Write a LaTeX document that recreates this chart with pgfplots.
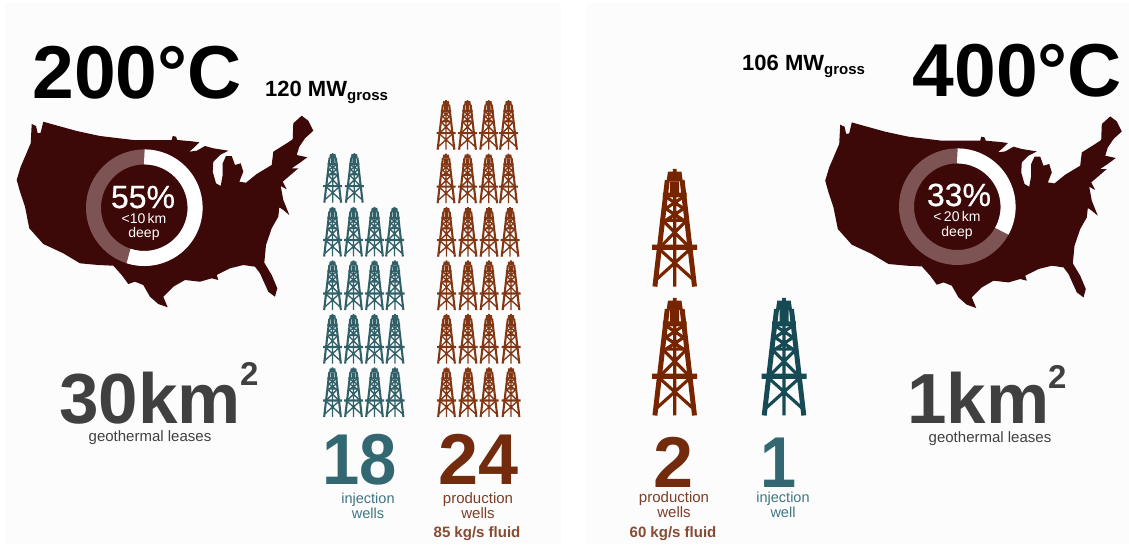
\documentclass[border=0pt]{standalone}
\usepackage{pgfplots}
\pgfplotsset{compat=1.18}
\usepackage{pgfplotstable}
\usepackage{fontspec}
\setmainfont{Liberation Sans}
\newfontfamily\heavyface[FakeBold=0.5]{Liberation Sans}

\definecolor{mapdark}{HTML}{3D0808}
\definecolor{ringpale}{HTML}{7D5353}
\definecolor{paneltint}{HTML}{FCFCFC}
\definecolor{rust}{HTML}{762500}
\definecolor{rusttext}{HTML}{722B0D}
\definecolor{rustsoft}{HTML}{7B3E28}
\definecolor{petrol}{HTML}{164A55}
\definecolor{petroltext}{HTML}{336872}
\definecolor{petrolsoft}{HTML}{3F7682}
\definecolor{greytext}{HTML}{404040}

% Outline of the contiguous United States, in page units
\pgfplotstableread{
x y
31.7 124
36 126
37.7 133.3
40.7 132.7
41.7 128.3
43.3 121.7
55 125
76.7 131
100 136
133.3 140
171.7 140
172.7 136
176 136.7
177.3 140
191.7 141.3
199.3 142.3
195 146.7
189.3 151.7
196.7 150.7
205 146
213.3 148.3
228.3 150.7
220 155
213.3 161.7
212.7 171.7
216 183.3
220.7 186
222.7 175
222.7 163.3
226 156
231.7 156
235 165
240.7 163.3
243.3 171.7
239.3 181.7
246 182.7
256.7 174
271.7 165
273.3 151.7
286.7 143.3
292.7 139.3
293.3 123.3
301.7 115.7
308.3 120.7
313.3 130.7
305 138.3
299.3 146.7
296.7 155
307.3 157.3
300 162.7
291.7 168.3
298.3 168.3
291.7 174
282.7 181.7
286.7 189.3
280.7 186
283.3 200
289.3 215
283.3 210
279.3 207.3
278.3 216.7
271.7 228.3
266 245
264.3 262.7
271.7 275
277.3 288.3
275 296.7
268.3 291.7
260 273.3
255 266.7
243.3 265
230 268.3
216.7 275
218.3 280
211.7 278.3
200 281.7
185 280
173.3 286.7
163.3 296.7
167.7 307.3
158.3 304
150 296.7
143.3 285
135 281.7
128.3 284
121.7 275
113.3 265.7
98.3 265
80 263.3
63.3 253.3
43.3 244
29.3 228.3
25 206.7
20 191.7
16.7 180
20.7 166.7
25 156.7
30.7 143.3
}\usoutline

% Well positions
\pgfplotstableread{
x y
332.7 177.7
354.3 177.7
332.5 231.5
353.5 231.5
374.5 231.5
394.5 231.5
332.5 285
353.5 285
374.5 285
395 285
332.5 338.6
353.5 338.6
374.5 338.6
395 338.6
332.5 392
353.5 392
374.5 392
395 392
}\injectionwells
\pgfplotstableread{
x y
446 124.7
467.5 124.7
488.7 124.7
508.5 124.7
446 178.2
467.5 178.2
488.7 178.2
508.5 178.2
446.5 231.7
468 231.7
489 231.7
510 231.7
446.5 285.1
468 285.1
489 285.1
511 285.1
446.5 338.6
468 338.6
489 338.6
511 338.6
446.5 392
468 392
489 392
511 392
}\productionwells

% Drilling derrick, half a base width wide at mark size 1
\newcommand{\dpt}[2]{\pgfpoint{#1*\pgfplotmarksize}{#2*\pgfplotmarksize}}
\newcommand{\dseg}[4]{\pgfpathmoveto{\dpt{#1}{#2}}\pgfpathlineto{\dpt{#3}{#4}}}
\newcommand{\dbox}[4]{\pgfpathrectanglecorners{\dpt{#1}{#2}}{\dpt{#3}{#4}}}
\pgfdeclareplotmark{derrick}{%
  % solid parts: spire, crown, platforms
  \dbox{-0.08}{2.60}{0.08}{2.40}%
  \pgfpathmoveto{\dpt{-0.30}{2.48}}\pgfpathlineto{\dpt{0.30}{2.48}}%
  \pgfpathlineto{\dpt{0.36}{2.05}}\pgfpathlineto{\dpt{-0.36}{2.05}}\pgfpathclose
  \dbox{-0.53}{1.55}{0.53}{1.33}%
  \dbox{-1.0}{-0.77}{1.0}{-1.0}%
  \pgfusepathqfill
  % outer legs and centre post
  \pgfsetbuttcap
  \pgfsetlinewidth{0.22*\pgfplotmarksize}%
  \dseg{-0.33}{2.1}{-0.88}{-2.63}%
  \dseg{0.33}{2.1}{0.88}{-2.63}%
  \pgfusepathqstroke
  \pgfsetlinewidth{0.14*\pgfplotmarksize}%
  \dseg{0}{2.05}{0}{-2.63}%
  \dseg{-0.13}{2.05}{-0.13}{1.4}%
  \dseg{0.13}{2.05}{0.13}{1.4}%
  % bracing
  \dseg{-0.38}{1.35}{0.38}{0.85}%
  \dseg{0.38}{1.35}{-0.38}{0.85}%
  \dseg{-0.42}{0.85}{0.42}{0.30}%
  \dseg{0.42}{0.85}{-0.42}{0.30}%
  \dseg{-0.48}{0.32}{0.48}{0.32}%
  \dseg{-0.52}{0.30}{0.62}{-0.85}%
  \dseg{0.52}{0.30}{-0.62}{-0.85}%
  \dseg{-0.70}{-0.95}{0.80}{-2.30}%
  \dseg{0.70}{-0.95}{-0.80}{-2.30}%
  \pgfusepathqstroke
}

\begin{document}
\begin{tikzpicture}
\begin{axis}[
  at={(0,0)}, anchor=south west,
  width=1129pt, height=544pt, scale only axis,
  xmin=0, xmax=1129, ymin=0, ymax=544, y dir=reverse,
  axis lines=none, clip=false,
]
% panels
\addplot[draw=none, fill=paneltint] coordinates {(5,3) (560.7,3) (560.7,544) (5,544)} -- cycle;
\addplot[draw=none, fill=paneltint] coordinates {(585.7,3) (1129,3) (1129,544) (585.7,544)} -- cycle;

% maps
\addplot[draw=none, fill=mapdark] table[x=x, y=y] {\usoutline} -- cycle;
\addplot[draw=none, fill=mapdark] table[x expr=\thisrow{x}+808.5, y expr=\thisrow{y}+0.7] {\usoutline} -- cycle;

% wells
\addplot[only marks, mark=derrick, mark size=9.5pt, color=rust!92!white] table[x=x, y=y] {\productionwells};
\addplot[only marks, mark=derrick, mark size=9.5pt, color=petrol!88!white] table[x=x, y=y] {\injectionwells};
\addplot[only marks, mark=derrick, mark size=22.5pt, color=rust] coordinates {(674.7,227.4) (674.7,356.3)};
\addplot[only marks, mark=derrick, mark size=22.5pt, color=petrol] coordinates {(784,356.3)};

% share rings: the pale ring plus the share of it in white
\draw[ringpale, line width=15pt] (axis cs:144.3,207.7) circle[radius=50.8pt];
\draw[white, line width=15pt] (axis cs:144.3,156.9) arc[start angle=90, delta angle={-0.55*360}, radius=50.8pt];
\draw[ringpale, line width=15pt] (axis cs:957.3,206.7) circle[radius=50.8pt];
\draw[white, line width=15pt] (axis cs:957.3,155.9) arc[start angle=90, delta angle={-0.33*360}, radius=50.8pt];

% headline temperatures and power
\node[anchor=base, font=\bfseries\fontsize{75}{75}\selectfont] at (axis cs:137,98) {200°C};
\node[anchor=base, font=\bfseries\fontsize{75}{75}\selectfont] at (axis cs:1017.5,96.5) {400°C};
\node[anchor=base west, inner sep=0pt, font=\bfseries\fontsize{22}{22}\selectfont] at (axis cs:265,96) {120 MW\raisebox{-4pt}{\fontsize{15}{15}\selectfont gross}};
\node[anchor=base west, inner sep=0pt, font=\bfseries\fontsize{22}{22}\selectfont] at (axis cs:742,70) {106 MW\raisebox{-4pt}{\fontsize{15}{15}\selectfont gross}};

% ring captions
\node[anchor=base, white, font=\heavyface\fontsize{32}{32}\selectfont] at (axis cs:143,208) {55\%};
\node[white, inner sep=0pt, align=center, font=\fontsize{14}{14.5}\selectfont] at (axis cs:144,227) {<10\,km\\deep};
\node[anchor=base, white, font=\heavyface\fontsize{32}{32}\selectfont] at (axis cs:959,206) {33\%};
\node[white, inner sep=0pt, align=center, font=\fontsize{14}{14.5}\selectfont] at (axis cs:957,225.5) {<\,20\,km\\deep};

% lease areas
\node[anchor=base west, inner sep=0pt, greytext, font=\bfseries\fontsize{71}{71}\selectfont] at (axis cs:59,423) {30km};
\node[anchor=base west, inner sep=0pt, greytext, font=\bfseries\fontsize{33}{33}\selectfont] at (axis cs:240,385) {2};
\node[greytext, inner sep=0pt, font=\fontsize{15}{15}\selectfont] at (axis cs:150,438) {geothermal leases};
\node[anchor=base west, inner sep=0pt, greytext, font=\bfseries\fontsize{71}{71}\selectfont] at (axis cs:907,423) {1km};
\node[anchor=base west, inner sep=0pt, greytext, font=\bfseries\fontsize{33}{33}\selectfont] at (axis cs:1048,388) {2};
\node[greytext, inner sep=0pt, font=\fontsize{15}{15}\selectfont] at (axis cs:990,439) {geothermal leases};

% well counts
\node[anchor=base, xscale=0.93, petroltext, font=\bfseries\fontsize{72}{72}\selectfont] at (axis cs:360,484) {18};
\node[anchor=base, rusttext, font=\bfseries\fontsize{72}{72}\selectfont] at (axis cs:479,484) {24};
\node[anchor=base, rusttext, font=\bfseries\fontsize{72}{72}\selectfont] at (axis cs:674,487) {2};
\node[anchor=base, xscale=0.9, petroltext, font=\bfseries\fontsize{72}{72}\selectfont] at (axis cs:779,487) {1};

\node[petrolsoft, inner sep=0pt, align=center, font=\fontsize{14.5}{15}\selectfont] at (axis cs:368,506) {injection\\wells};
\node[rustsoft, inner sep=0pt, align=center, font=\fontsize{15}{15}\selectfont] at (axis cs:478,506) {production\\wells};
\node[rusttext!85!white, inner sep=0pt, font=\bfseries\fontsize{15}{15}\selectfont] at (axis cs:477,534) {85 kg/s fluid};
\node[rustsoft, inner sep=0pt, align=center, font=\fontsize{15}{15}\selectfont] at (axis cs:674,505) {production\\wells};
\node[rusttext!85!white, inner sep=0pt, font=\bfseries\fontsize{15}{15}\selectfont] at (axis cs:673,534) {60 kg/s fluid};
\node[petrolsoft, inner sep=0pt, align=center, font=\fontsize{14.5}{15}\selectfont] at (axis cs:783,505) {injection\\well};
\end{axis}
% the page is exactly the plotting area
\pgfresetboundingbox
\path[use as bounding box] (0,0) rectangle (1129pt,544pt);
\end{tikzpicture}
\end{document}
